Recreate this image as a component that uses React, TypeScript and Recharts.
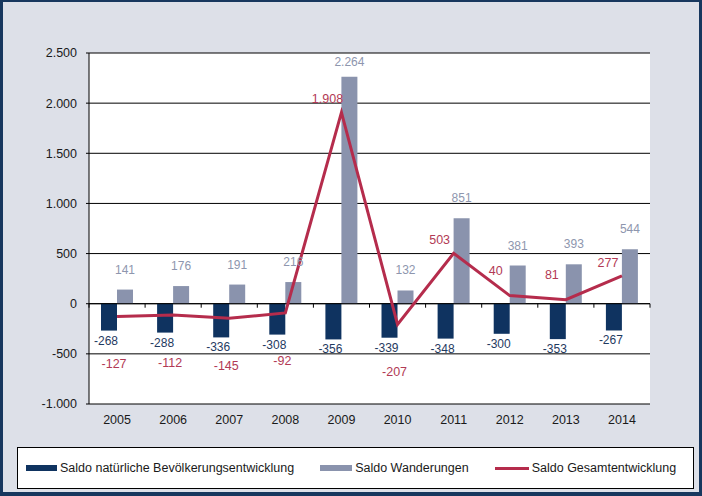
import {
  Bar,
  CartesianGrid,
  ComposedChart,
  LabelList,
  Line,
  ReferenceLine,
  XAxis,
  YAxis,
} from 'recharts';

const years = ['2005', '2006', '2007', '2008', '2009', '2010', '2011', '2012', '2013', '2014'];
const naturalBalance = [-268, -288, -336, -308, -356, -339, -348, -300, -353, -267];
const migrationBalance = [141, 176, 191, 216, 2264, 132, 851, 381, 393, 544];
const totalBalance = [-127, -112, -145, -92, 1908, -207, 503, 81, 40, 277];
// labels as printed on the red line (2012 and 2013 are swapped in the source)
const totalLabels = ['-127', '-112', '-145', '-92', '1.908', '-207', '503', '40', '81', '277'];
const yTicks = [-1000, -500, 0, 500, 1000, 1500, 2000, 2500];

const data = years.map((year, i) => ({
  year,
  natural: naturalBalance[i],
  migration: migrationBalance[i],
  total: totalBalance[i],
}));

const DARK = '#0f3360';
const GRAY = '#8a93ad';
const RED = '#b52c4c';
const FONT = "'Liberation Sans', Arial, sans-serif";

function formatDe(n: number) {
  const s = String(Math.abs(n)).replace(/\B(?=(\d{3})+(?!\d))/g, '.');
  return n < 0 ? '-' + s : s;
}

function NaturalLabel(props: any) {
  const { x, y, width, height, value } = props;
  const end = Math.max(y, y + height);
  return (
    <text x={x + width / 2 - 3} y={end + 10} textAnchor="middle" dominantBaseline="central" fontSize={12} fill="#1f3a5f">
      {formatDe(value)}
    </text>
  );
}

function MigrationLabel(props: any) {
  const { x, y, width, height, value } = props;
  const end = Math.min(y, y + height);
  const base = Math.max(y, y + height);
  // keep the label inside the plot: top of plot from the bar's own pixel scale
  const top = base - (Math.abs(height) / value) * yTicks[yTicks.length - 1];
  const cy = Math.max(end - 20, top + 8.5);
  return (
    <text x={x + width / 2} y={cy} textAnchor="middle" dominantBaseline="central" fontSize={12} fill="#8e96ae">
      {formatDe(value)}
    </text>
  );
}

function TotalLabel(props: any) {
  const { x, y, value } = props;
  const i = typeof props.index === 'number' ? props.index : totalBalance.indexOf(value);
  const neg = value < 0;
  // lift the label further when the line comes down into the point from the left
  const prev = i > 0 ? totalBalance[i - 1] : undefined;
  const up = prev !== undefined && prev > value ? 25 : 13;
  return (
    <text
      x={neg ? x - 3 : x - 14}
      y={neg ? y + 48 : y - up}
      textAnchor="middle"
      dominantBaseline="central"
      fontSize={12.5}
      fill="#b23a55"
    >
      {totalLabels[i]}
    </text>
  );
}

// category axis drawn at zero, tick marks between the years
function ZeroAxis(props: any) {
  const { x1, x2, y1 } = props;
  const step = (x2 - x1) / years.length;
  return (
    <g>
      <line x1={x1} x2={x2} y1={y1} y2={y1} stroke="#000" strokeWidth={1} />
      {Array.from({ length: years.length + 1 }, (_, i) => (
        <line key={i} x1={x1 + i * step} x2={x1 + i * step} y1={y1} y2={y1 + 4} stroke="#000" strokeWidth={1} />
      ))}
    </g>
  );
}

function LegendItem({ color, w, h, label }: { color: string; w: number; h: number; label: string }) {
  return (
    <div style={{ display: 'flex', alignItems: 'center' }}>
      <span style={{ display: 'inline-block', width: w, height: h, background: color, marginRight: 3 }} />
      <span>{label}</span>
    </div>
  );
}

export default function App() {
  return (
    <div
      style={{
        position: 'fixed',
        left: 0,
        top: 0,
        width: 702,
        height: 496,
        boxSizing: 'border-box',
        borderStyle: 'solid',
        borderColor: '#17375e',
        borderWidth: '2px 3px 4px 3px',
        background: '#dde0e8',
        fontFamily: FONT,
      }}
    >
      <ComposedChart
        width={696}
        height={490}
        data={data}
        margin={{ top: 51, right: 49, left: 0, bottom: 58 }}
        barGap={0}
      >
        <CartesianGrid vertical={false} stroke="#000" strokeOpacity={1} fill="#fff" fillOpacity={1} />
        <XAxis
          dataKey="year"
          axisLine={false}
          tickLine={false}
          tickSize={0}
          tickMargin={11}
          height={30}
          interval={0}
          tick={{ fill: '#1a1a1a', fontSize: 12.5 }}
        />
        <YAxis
          width={86}
          domain={[-1000, 2500]}
          ticks={yTicks}
          interval={0}
          tickFormatter={formatDe}
          axisLine={{ stroke: '#000' }}
          tickLine={{ stroke: '#000' }}
          tickSize={3}
          tickMargin={9}
          tick={{ fill: '#1a1a1a', fontSize: 12.5 }}
        />
        <ReferenceLine y={0} shape={ZeroAxis} />
        <Bar dataKey="natural" fill={DARK} barSize={16} isAnimationActive={false}>
          <LabelList dataKey="natural" content={NaturalLabel} />
        </Bar>
        <Bar dataKey="migration" fill={GRAY} barSize={16} isAnimationActive={false}>
          <LabelList dataKey="migration" content={MigrationLabel} />
        </Bar>
        <Line
          type="linear"
          dataKey="total"
          stroke={RED}
          strokeWidth={3}
          dot={false}
          activeDot={false}
          isAnimationActive={false}
        >
          <LabelList dataKey="total" content={TotalLabel} />
        </Line>
      </ComposedChart>
      <div
        style={{
          position: 'absolute',
          left: 14,
          top: 445,
          width: 677,
          height: 42,
          boxSizing: 'border-box',
          border: '1px solid #000',
          background: '#fff',
          display: 'flex',
          alignItems: 'center',
          paddingLeft: 8,
          gap: 26,
          fontSize: 12.5,
          color: '#1a1a1a',
        }}
      >
        <LegendItem color={DARK} w={31} h={6} label="Saldo natürliche Bevölkerungsentwicklung" />
        <LegendItem color={GRAY} w={32} h={6} label="Saldo Wanderungen" />
        <LegendItem color={RED} w={34} h={3} label="Saldo Gesamtentwicklung" />
      </div>
    </div>
  );
}
